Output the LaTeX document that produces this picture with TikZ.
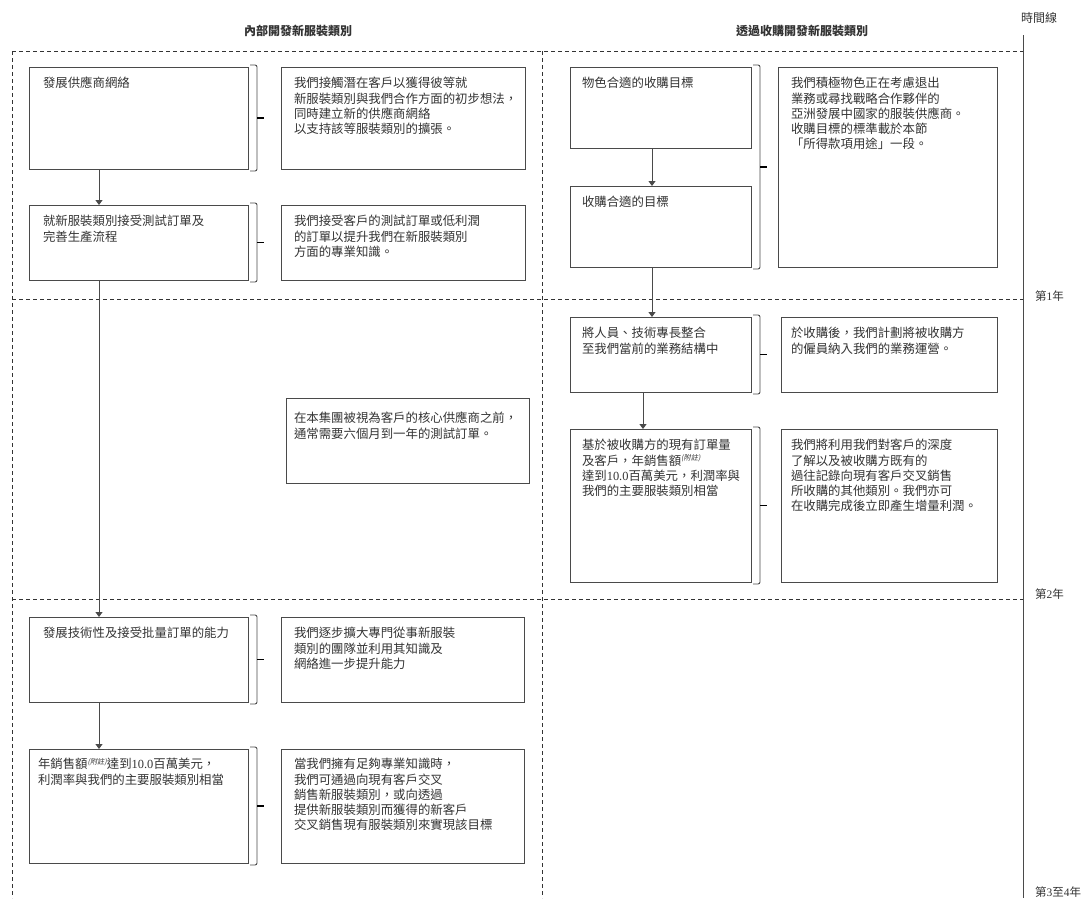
\documentclass[tikz,border=0pt]{standalone}
\usepackage{fontspec}
\setmainfont{Noto Sans CJK TC}
\newfontfamily\lat{Liberation Serif}
\newfontfamily\slnt{Noto Sans CJK TC}[FakeSlant=0.2]
\usetikzlibrary{arrows.meta,calc}
\definecolor{txt}{HTML}{333333}
\definecolor{ln}{HTML}{4A4A4A}
\definecolor{dsh}{HTML}{333333}
% box text: width, height, left inset, top gap, text
\newcommand{\bt}[5]{\parbox[t][#2pt][t]{#1pt}{\fontsize{12.4}{15.3}\selectfont\leftskip=#3pt\rightskip=0pt plus 1fil\parindent=0pt\vspace*{#4pt}\strut #5}}
\newcommand{\fz}{\raisebox{4.5pt}{\fontsize{7.2}{7.2}\selectfont\slnt(附註)}}
\newcommand{\brkt}[2]{%
  \draw[brk] ([shift={(2pt,2pt)}]#1.north east) -- ++(7pt,0pt) |- ([shift={(2pt,-2pt)}]#2.south east);
  \draw[tick] ($(#1.north east)!0.5!(#2.south east)+(9pt,0pt)$) -- ++(7pt,0pt);}
\tikzset{
  box/.style={draw=ln, line width=0.9pt, anchor=north west, inner sep=0pt, outer sep=0pt, text=txt},
  hdr/.style={text=txt, font=\fontsize{12}{14}\selectfont\bfseries, inner sep=0pt},
  yr/.style={text=txt, font=\fontsize{11.5}{13}\selectfont, anchor=west, inner sep=0pt},
  dsl/.style={draw=dsh, line width=0.7pt, dash pattern=on 4pt off 3pt},
  brk/.style={draw=ln, line width=0.9pt, rounded corners=2pt},
  tick/.style={draw=black, line width=1.8pt},
  arr/.style={draw=ln, line width=0.9pt, -{Triangle[length=5pt,width=7pt]}},
  tline/.style={draw=ln, line width=1pt}
}
\begin{document}
\begin{tikzpicture}[x=1pt,y=-1pt]
\useasboundingbox (0,0) rectangle (1086,898);
% headers
\node[hdr] (h1) at (298,31) {內部開發新服裝類別};
\node[hdr] (h2) at (802,31) {透過收購開發新服裝類別};
\node[text=txt, font=\fontsize{12}{14}\selectfont, inner sep=0pt] (tl) at (1039,18) {時間線};
% timeline
\coordinate (tltop) at (1023,35);
\coordinate (tlbot) at (1023,898);
\draw[tline] (tltop) -- (tlbot);
\node[yr] (y1) at (1035,296) {第{\lat 1}年};
\node[yr] (y2) at (1035,594) {第{\lat 2}年};
\node[yr] (y3) at (1035,892) {第{\lat 3}至{\lat 4}年};
% dashed grid
\coordinate (d1l) at (12,51);  \coordinate (d1r) at (1023,51);
\coordinate (d2l) at (12,299); \coordinate (d2r) at (1023,299);
\coordinate (d3l) at (12,599); \coordinate (d3r) at (1023,599);
\coordinate (vlb) at (12,898); \coordinate (vmt) at (542,51); \coordinate (vmb) at (542,898);
\draw[dsl] (d1l) -- (d1r);
\draw[dsl] (d2l) -- (d2r);
\draw[dsl] (d3l) -- (d3r);
\draw[dsl] (d1l) -- (vlb);
\draw[dsl] (vmt) -- (vmb);
% left column
\node[box] (A) at (29,67) {\bt{219}{102}{14}{10}{發展供應商網絡}};
\node[box] (dA) at (281,67) {\bt{244}{102}{13}{10}{我們接觸潛在客戶以獲得彼等就\\新服裝類別與我們合作方面的初步想法，\\同時建立新的供應商網絡\\以支持該等服裝類別的擴張。}};
\node[box] (B) at (29,205) {\bt{219}{75}{14}{10}{就新服裝類別接受測試訂單及\\完善生產流程}};
\node[box] (dB) at (281,205) {\bt{244}{75}{13}{10}{我們接受客戶的測試訂單或低利潤\\的訂單以提升我們在新服裝類別\\方面的專業知識。}};
\node[box] (note) at (286,398) {\bt{243}{85}{8}{14}{在本集團被視為客戶的核心供應商之前，\\通常需要六個月到一年的測試訂單。}};
\node[box] (C) at (29,617) {\bt{219}{85}{14}{10}{發展技術性及接受批量訂單的能力}};
\node[box] (dC) at (281,617) {\bt{243}{85}{13}{10}{我們逐步擴大專門從事新服裝\\類別的團隊並利用其知識及\\網絡進一步提升能力}};
\node[box] (D) at (29,749) {\bt{219}{114}{9}{9}{年銷售額\fz 達到{\lat 10.0}百萬美元，\\利潤率與我們的主要服裝類別相當}};
\node[box] (dD) at (281,749) {\bt{243}{114}{13}{9}{當我們擁有足夠專業知識時，\\我們可通過向現有客戶交叉\\銷售新服裝類別，或向透過\\提供新服裝類別而獲得的新客戶\\交叉銷售現有服裝類別來實現該目標}};
% right column
\node[box] (E) at (570,67) {\bt{181}{81}{12}{10}{物色合適的收購目標}};
\node[box] (F) at (570,186) {\bt{181}{81}{12}{10}{收購合適的目標}};
\node[box] (dEF) at (778,67) {\bt{219}{200}{13}{10}{我們積極物色正在考慮退出\\業務或尋找戰略合作夥伴的\\亞洲發展中國家的服裝供應商。\\收購目標的標準載於本節\\「所得款項用途」一段。}};
\node[box] (G) at (570,317) {\bt{181}{75}{12}{10}{將人員、技術專長整合\\至我們當前的業務結構中}};
\node[box] (dG) at (781,317) {\bt{216}{75}{10}{10}{於收購後，我們計劃將被收購方\\的僱員納入我們的業務運營。}};
\node[box] (H) at (570,429) {\bt{181}{153}{12}{10}{基於被收購方的現有訂單量\\及客戶，年銷售額\fz\\達到{\lat 10.0}百萬美元，利潤率與\\我們的主要服裝類別相當}};
\node[box] (dH) at (781,429) {\bt{216}{153}{10}{10}{我們將利用我們對客戶的深度\\了解以及被收購方既有的\\過往記錄向現有客戶交叉銷售\\所收購的其他類別。我們亦可\\在收購完成後立即產生增量利潤。}};
% brackets
\brkt{A}{A}
\brkt{B}{B}
\brkt{C}{C}
\brkt{D}{D}
\brkt{E}{F}
\brkt{G}{G}
\brkt{H}{H}
% arrows
\draw[arr] ([xshift=70pt]A.south west) -- ([xshift=70pt]B.north west);
\draw[arr] ([xshift=70pt]B.south west) -- ([xshift=70pt]C.north west);
\draw[arr] ([xshift=70pt]C.south west) -- ([xshift=70pt]D.north west);
\draw[arr] ([xshift=82pt]E.south west) -- ([xshift=82pt]F.north west);
\draw[arr] ([xshift=82pt]F.south west) -- ([xshift=82pt]G.north west);
\draw[arr] ([xshift=73pt]G.south west) -- ([xshift=73pt]H.north west);
\end{tikzpicture}
\end{document}
